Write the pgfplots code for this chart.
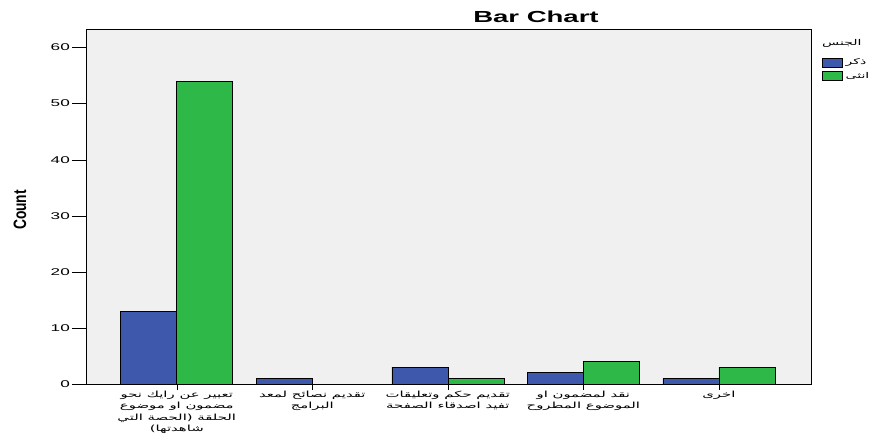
\documentclass[border=0pt]{standalone}
\usepackage{fontspec}
\usepackage{graphicx}
\usepackage{pgfplots}
\pgfplotsset{compat=1.18}
\setmainfont{Liberation Sans}
\newfontfamily\arabicfont[Script=Arabic]{DejaVu Sans}
\TeXXeTstate=1
\definecolor{spssblue}{RGB}{62,88,172}
\definecolor{spssgreen}{RGB}{46,184,72}
\definecolor{plotbg}{RGB}{240,240,240}
\newcommand{\xl}[1]{\scalebox{1.75}[1]{\arabicfont\fontsize{8.5}{11.5}\selectfont\begin{tabular}{@{}c@{}}#1\end{tabular}}}
\begin{document}
\begin{tikzpicture}
\begin{axis}[
  scale only axis,
  width=725pt, height=355pt,
  at={(0,0)}, anchor=south west,
  ybar=0pt, bar width=56pt,
  xmin=-0.67, xmax=4.68,
  ymin=0, ymax=63.3,
  xtick={0,1,2,3,4},
  xticklabels={
    {\xl{\beginR تعبير عن رايك نحو\endR\\ \beginR مضمون او موضوع\endR\\ \beginR الحلقة (الحصة التي\endR\\ \beginR شاهدتها)\endR}},
    {\xl{\beginR تقديم نصائح لمعد\endR\\ \beginR البرامج\endR}},
    {\xl{\beginR تقديم حكم وتعليقات\endR\\ \beginR تفيد اصدقاء الصفحة\endR}},
    {\xl{\beginR نقد لمضمون او\endR\\ \beginR الموضوع المطروح\endR}},
    {\xl{\beginR اخرى\endR}}
  },
  ytick={0,10,20,30,40,50,60},
  yticklabel={\scalebox{1.75}[1]{\fontsize{9.8}{10}\selectfont\pgfmathprintnumber{\tick}}},
  /pgf/number format/assume math mode=true,
  tick align=outside,
  major tick length=14pt,
  xtick style={/pgfplots/major tick length=6pt, draw=black},
  ytick style={draw=black},
  xtick pos=bottom, ytick pos=left,
  xticklabel style={anchor=north, inner sep=0pt, yshift=9pt},
  yticklabel style={anchor=east, inner sep=0pt, xshift=-2pt},
  axis background/.style={fill=plotbg},
  axis line style={black, line width=0.8pt},
  legend style={at={(1.015,0.92)}, anchor=north west, draw=none, fill=none,
    inner sep=0pt, row sep=4pt, nodes={inner sep=1pt, anchor=west}},
  legend image code/.code={\draw[#1] (0pt,-4.5pt) rectangle (20pt,4.5pt);},
  legend cell align=left,
]
\addplot[fill=spssblue, draw=black, line width=0.6pt] coordinates {(0,13) (1,1) (2,3) (3,2) (4,1)};
\addplot[fill=spssgreen, draw=black, line width=0.6pt] coordinates {(0,54) (2,1) (3,4) (4,3)};
\addlegendentry{\hspace{2pt}\scalebox{1.75}[1]{\arabicfont\fontsize{8}{10}\selectfont\beginR ذكر\endR}}
\addlegendentry{\hspace{2pt}\scalebox{1.75}[1]{\arabicfont\fontsize{8}{10}\selectfont\beginR انثى\endR}}
\end{axis}
\node[anchor=base, inner sep=0pt] at (450pt,361pt) {\scalebox{1.72}[1]{\fontsize{16}{18}\selectfont\bfseries Bar Chart}};
\node[rotate=90, inner sep=0pt] at (-66pt,174pt) {\scalebox{1}[1.3]{\fontsize{13.8}{15}\selectfont\bfseries Count}};
\node[anchor=base west, inner sep=0pt] at (736pt,338pt) {\scalebox{1.75}[1]{\arabicfont\fontsize{8}{10}\selectfont\beginR الجنس\endR}};
\pgfresetboundingbox
\path[use as bounding box] (-86pt,-50pt) rectangle (786pt,384pt);
\end{tikzpicture}
\end{document}
